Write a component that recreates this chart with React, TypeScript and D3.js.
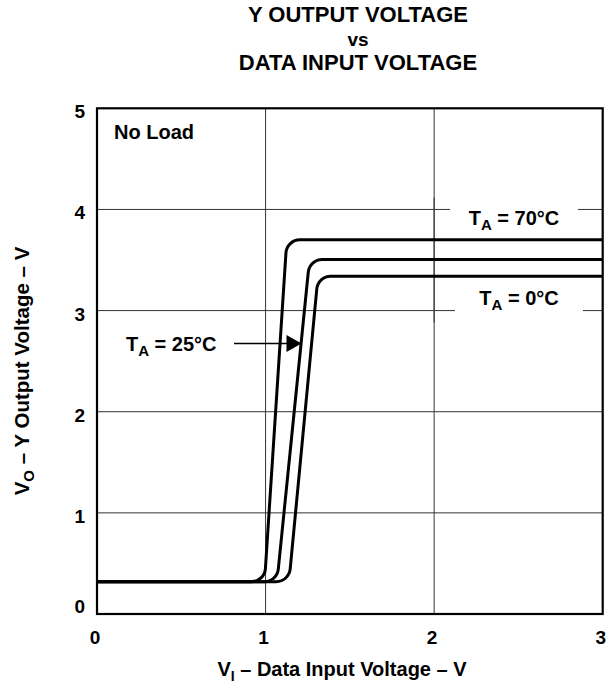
import React from "react";
import * as d3 from "d3";

// Y output voltage vs data input voltage, three ambient temperatures
const xTicks = [0, 1, 2, 3];
const yTicks = [0, 1, 2, 3, 4, 5];

// corner points of each transfer curve (drawn with rounded corners)
const curve70: [number, number][] = [[0, 0.32], [0.994, 0.32], [1.126, 3.7], [3, 3.7]];
const curve25: [number, number][] = [[0, 0.32], [1.068, 0.32], [1.261, 3.506], [3, 3.506]];
const curve0: [number, number][] = [[0, 0.32], [1.139, 0.32], [1.311, 3.34], [3, 3.34]];
const series = [
  { name: "70", points: curve70 },
  { name: "25", points: curve25 },
  { name: "0", points: curve0 },
];

const titleLines = ["Y OUTPUT VOLTAGE", "vs", "DATA INPUT VOLTAGE"];

const W = 616;
const H = 690;
const FONT = "Arial, 'Liberation Sans', Helvetica, sans-serif";
const CORNER_R = 14;

export default function App() {
  const x = d3.scaleLinear().domain([0, 3]).range([97, 602.7]);
  const y = d3.scaleLinear().domain([0, 5]).range([614, 108.3]);

  const roundedPath = (pts: [number, number][]) => {
    const p = d3.path();
    const px = pts.map(d => [x(d[0]), y(d[1])]);
    p.moveTo(px[0][0], px[0][1]);
    for (let i = 1; i < px.length - 1; i++) {
      p.arcTo(px[i][0], px[i][1], px[i + 1][0], px[i + 1][1], CORNER_R);
    }
    const last = px[px.length - 1];
    p.lineTo(last[0], last[1]);
    return p.toString();
  };

  // arrow to the 25°C curve
  const arrowY = 343.6;
  const arrowTip = 301.5;

  return (
    <svg
      width={W}
      height={H}
      style={{ position: "absolute", left: 0, top: 0, background: "#fff" }}
      fontFamily={FONT}
      fontWeight="bold"
    >
      <rect width={W} height={H} fill="#fff" />

      {/* title */}
      {titleLines.map((t, i) => (
        <text
          key={t}
          x={358}
          y={[22, 46, 70][i]}
          textAnchor="middle"
          fontSize={i === 1 ? 19 : 22}
          fill="#000"
        >
          {t}
        </text>
      ))}

      {/* grid */}
      {xTicks.slice(1, -1).map(t => (
        <line key={"gx" + t} x1={x(t)} x2={x(t)} y1={y(0)} y2={y(5)} stroke="#333" strokeWidth={1} />
      ))}
      {yTicks.slice(1, -1).map(t => (
        <line key={"gy" + t} x1={x(0)} x2={x(3)} y1={y(t)} y2={y(t)} stroke="#333" strokeWidth={1} />
      ))}

      {/* label gaps in grid */}
      <rect x={450} y={y(4) - 12} width={128} height={24} fill="#fff" />
      <rect x={455} y={y(3) - 12} width={128} height={24} fill="#fff" />
      <line x1={x(2)} x2={x(2)} y1={y(4) - 12} y2={y(3) + 12} stroke="#333" strokeWidth={1} />

      {/* curves */}
      {series.map(s => (
        <path
          key={s.name}
          d={roundedPath(s.points)}
          fill="none"
          stroke="#000"
          strokeWidth={3}
          strokeLinejoin="round"
        />
      ))}

      {/* frame */}
      <rect
        x={x(0)}
        y={y(5)}
        width={x(3) - x(0)}
        height={y(0) - y(5)}
        fill="none"
        stroke="#000"
        strokeWidth={2.2}
      />

      {/* tick labels */}
      {yTicks.map(t => (
        <text
          key={"yt" + t}
          x={85}
          y={t === 0 ? y(t) - 1 : y(t) + 10}
          textAnchor="end"
          fontSize={19}
        >
          {t}
        </text>
      ))}
      {xTicks.map(t => (
        <text key={"xt" + t} x={x(t) - 2} y={644} textAnchor="middle" fontSize={19}>
          {t}
        </text>
      ))}

      {/* axis titles */}
      <text x={342} y={676} textAnchor="middle" fontSize={20}>
        <tspan>V</tspan>
        <tspan dy={5} fontSize={14}>I</tspan>
        <tspan dy={-5}> – Data Input Voltage – V</tspan>
      </text>
      <text
        transform={`translate(29, 371) rotate(-90)`}
        textAnchor="middle"
        fontSize={20.5}
      >
        <tspan>V</tspan>
        <tspan dy={5} fontSize={15}>O</tspan>
        <tspan dy={-5}> – Y Output Voltage – V</tspan>
      </text>

      {/* annotations */}
      <text x={114} y={139} fontSize={20}>No Load</text>

      <text x={514} y={225} textAnchor="middle" fontSize={20}>
        <tspan>T</tspan>
        <tspan dy={5} fontSize={15}>A</tspan>
        <tspan dy={-5}> = 70°C</tspan>
      </text>
      <text x={519} y={305} textAnchor="middle" fontSize={20}>
        <tspan>T</tspan>
        <tspan dy={5} fontSize={15}>A</tspan>
        <tspan dy={-5}> = 0°C</tspan>
      </text>
      <text x={126} y={351} fontSize={20}>
        <tspan>T</tspan>
        <tspan dy={5} fontSize={15}>A</tspan>
        <tspan dy={-5}> = 25°C</tspan>
      </text>

      <line x1={234} x2={arrowTip - 10} y1={arrowY} y2={arrowY} stroke="#000" strokeWidth={1.5} />
      <path
        d={`M${arrowTip - 15},${arrowY - 8.5} L${arrowTip},${arrowY} L${arrowTip - 15},${arrowY + 8.5} Z`}
        fill="#000"
      />
    </svg>
  );
}
